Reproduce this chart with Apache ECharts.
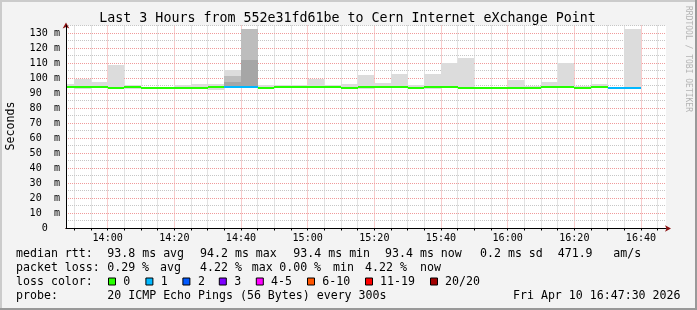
<!DOCTYPE html>
<html><head><meta charset="utf-8">
<script src="https://cdn.jsdelivr.net/npm/echarts@6/dist/echarts.min.js"></script>
<style>html,body{margin:0;padding:0;background:#f3f3f3}#c{width:697px;height:310px}</style>
</head><body><div id="c"></div>
<script>
// ---- data ----
const axisStart = '13:47:30';
const axisEnd = '16:47:30';
const binStart = ['13:45','13:50','13:55','14:00','14:05','14:10','14:15','14:20','14:25','14:30','14:35','14:40','14:45','14:50','14:55','15:00','15:05','15:10','15:15','15:20','15:25','15:30','15:35','15:40','15:45','15:50','15:55','16:00','16:05','16:10','16:15','16:20','16:25','16:30','16:35'];
const smokeLo = [93.5,93,93.5,92.7,92.7,93,93,93,92.7,92,93.5,93.5,93,94,94,94,94,93,93,93.5,93.5,93,92.7,93.5,93,93.2,93.2,93,93,93.5,93.5,93,93.5,93,93];
const smokeHi = [96,99.5,97.5,108.7,95.3,94,94,95.1,95.8,96.2,105.5,132.9,95.1,95.5,95.5,99.5,95.3,96,102,96.9,102.9,95.3,102.9,109.8,113.6,94.2,94.2,98.9,95,97.5,110.2,94.7,96,94.2,132.9];
const smokeMid = [null,null,null,null,null,null,null,null,null,null,101.3,132.9,null,null,null,null,null,null,null,null,null,null,null,null,null,null,null,null,null,null,null,null,null,null,null];
const smokeInner = [null,null,null,null,null,null,null,null,null,null,97.5,112,null,null,null,null,null,null,null,null,null,null,null,null,null,null,null,null,null,null,null,null,null,null,null];
const medianRtt = [94.2,94.2,94.2,93.5,94.2,93.4,93.4,93.4,93.4,94.2,94.2,94.2,93.4,94.2,94.2,94.2,94.2,93.5,94.2,94.2,94.2,93.5,94.2,94.2,93.5,93.5,93.5,93.5,93.5,94.2,94.2,93.5,94.2,93.4,93.4];
const lossPings = [0,0,0,0,0,0,0,0,0,0,1,1,0,0,0,0,0,0,0,0,0,0,0,0,0,0,0,0,0,0,0,0,0,1,1];
const xTickLabels = ['14:00','14:20','14:40','15:00','15:20','15:40','16:00','16:20','16:40'];
const yTickValues = [0,10,20,30,40,50,60,70,80,90,100,110,120,130];
const yMax = 135;
const titleText = 'Last 3 Hours from 552e31fd61be to Cern Internet eXchange Point';
const unitText = 'Seconds';
const rowMedian = ['median rtt:','93.8 ms avg','94.2 ms max','93.4 ms min','93.4 ms now','0.2 ms sd','471.9','am/s'];
const rowLoss = ['packet loss:','0.29','%','avg','4.22','%','max','0.00','%','min','4.22','%','now'];
const lossLabels = ['0','1','2','3','4-5','6-10','11-19','20/20'];
const probeText = ['probe:','20 ICMP Echo Pings (56 Bytes) every 300s'];
const dateText = 'Fri Apr 10 16:47:30 2026';
const watermark = 'RRDTOOL / TOBI OETIKER';

// ---- styles ----
const lossColors = ['#26ff00','#00b8ff','#0059ff','#7e00ff','#ff00ff','#ff5500','#ff0000','#a10000'];
const SMOKE = ['#dcdcdc','#bdbdbd','#a6a6a6'];
const MONO = 'DejaVu Sans Mono';
const MAJ = '#f09a9a', MIN = '#c6c6c6';

function toMin(s){const p=s.split(':').map(Number);return p[0]*60+p[1]+(p[2]||0)/60;}
function fmt(v){const h=Math.floor(v/60), m=Math.round(v-h*60);return (h<10?'0':'')+h+':'+(m<10?'0':'')+m;}
function lossIdx(n){if(n<=3)return n;if(n<=5)return 4;if(n<=10)return 5;if(n<=19)return 6;return 7;}
const xMin = toMin(axisStart), xMax = toMin(axisEnd);

const xGrid = [];
for (let t = Math.ceil(xMin/5)*5; t < xMax; t += 5) xGrid.push([t, t % 20 === 0 ? 1 : 0]);
const yGrid = [];
for (let v = 5; v <= yMax; v += 5) yGrid.push([v, v % 10 === 0 ? 1 : 0]);

const smokeData = binStart.map((s,i)=>[Math.max(toMin(s),xMin), Math.min(toMin(s)+5,xMax), smokeLo[i], smokeHi[i], medianRtt[i], i]);

const chart = echarts.init(document.getElementById('c'), null, {renderer:'canvas'});

const graphics = [];
graphics.push({type:'rect',shape:{x:0,y:0,width:697,height:2},style:{fill:'#cbcbcb'},silent:true});
graphics.push({type:'rect',shape:{x:0,y:0,width:2,height:310},style:{fill:'#cbcbcb'},silent:true});
graphics.push({type:'rect',shape:{x:0,y:308,width:697,height:2},style:{fill:'#999999'},silent:true});
graphics.push({type:'rect',shape:{x:695,y:0,width:2,height:310},style:{fill:'#999999'},silent:true});
function txt(t,x,y,size,align){return {type:'text',x:x,y:y,silent:true,style:{text:t,fontFamily:MONO,fontSize:size,fill:'#000',textAlign:align||'left',textVerticalAlign:'middle'}};}
graphics.push({type:'text',x:347.5,y:19,silent:true,style:{text:titleText,fontFamily:MONO,fontSize:13.3,fill:'#000',textAlign:'center',textVerticalAlign:'middle'}});
graphics.push({type:'text',x:11,y:126,rotation:Math.PI/2,silent:true,style:{text:unitText,fontFamily:MONO,fontSize:11.6,fill:'#000',textAlign:'center',textVerticalAlign:'middle'}});
graphics.push({type:'text',x:688,y:59,rotation:-Math.PI/2,silent:true,style:{text:watermark,fontFamily:MONO,fontSize:8,fill:'#b4b4b4',textAlign:'center',textVerticalAlign:'middle'}});
const LF = 11.6;
const r1x = [16,107.3,200,293.3,385,480,557.7,613.3];
rowMedian.forEach((t,i)=>graphics.push(txt(t,r1x[i],254,LF)));
const r2x = [16,107.3,142,160,200,235,251.7,279.3,314,333,365,400,420];
rowLoss.forEach((t,i)=>graphics.push(txt(t,r2x[i],268,LF)));
graphics.push(txt('loss color:',16,282,LF));
const boxX = [108.5,145.9,182.9,219.3,256.3,307.5,365.5,430.5];
const labX = [123.3,160.7,198,234.3,271,322.3,380,445];
lossLabels.forEach((t,i)=>{
  graphics.push({type:'rect',shape:{x:boxX[i],y:278,width:7,height:7},style:{fill:lossColors[i],stroke:'#000',lineWidth:1},silent:true});
  graphics.push(txt(t,labX[i],282,LF));
});
graphics.push(txt(probeText[0],16,296,LF));
graphics.push(txt(probeText[1],107.3,296,LF));
graphics.push(txt(dateText,680.5,296,LF,'right'));

const option = {
  animation:false,
  backgroundColor:'#f3f3f3',
  grid:{left:66,top:25.5,width:600,height:203,show:true,backgroundColor:'#ffffff',borderWidth:0,containLabel:false},
  xAxis:[
    {type:'value',min:xMin,max:xMax,position:'bottom',z:5,
     axisLine:{show:true,symbol:['none','arrow'],symbolSize:[5,6],symbolOffset:[0,5],lineStyle:{color:'#8b1010',width:1}},
     axisLabel:{show:false},axisTick:{show:false},splitLine:{show:false}},
    {type:'value',min:xMin,max:xMax,position:'bottom',z:6,
     axisLine:{show:true,lineStyle:{color:'#000',width:1}},
     axisTick:{show:true,length:2,lineStyle:{color:'#000'},customValues:xGrid.map(g=>g[0])},
     axisLabel:{show:true,customValues:xTickLabels.map(toMin),formatter:v=>fmt(v),fontFamily:MONO,fontSize:10.1,color:'#000',margin:5},
     splitLine:{show:false}}
  ],
  yAxis:[
    {type:'value',min:0,max:yMax,interval:10,position:'left',z:5,
     axisLine:{show:true,symbol:['none','arrow'],symbolSize:[5,6],symbolOffset:[0,3],lineStyle:{color:'#8b1010',width:1}},
     axisLabel:{show:false},axisTick:{show:false},splitLine:{show:false}},
    {type:'value',min:0,max:yMax,interval:10,position:'left',z:6,
     axisLine:{show:true,lineStyle:{color:'#000',width:1}},
     axisTick:{show:false},
     axisLabel:{show:true,fontFamily:MONO,fontSize:10.1,color:'#000',margin:6,
       formatter:v=>{ if (yTickValues.indexOf(v)<0) return ''; if(v===0) return '  0  '; return v>=100? v+' m' : v+'  m'; }},
     splitLine:{show:false}}
  ],
  graphic:graphics,
  series:[
    {type:'custom',name:'xgrid',xAxisIndex:1,yAxisIndex:1,z:1,silent:true,data:xGrid,encode:{x:0},
     renderItem:(params,api)=>{
       const t=api.value(0), major=api.value(1);
       const a=api.coord([t,yMax]), b=api.coord([t,0]);
       const x=Math.floor(a[0])+0.5;
       return {type:'line',shape:{x1:x,y1:a[1],x2:x,y2:b[1]},style:{stroke:major?MAJ:MIN,lineWidth:1,lineDash:[1,1]}};
     }},
    {type:'custom',name:'ygrid',xAxisIndex:1,yAxisIndex:1,z:1,silent:true,data:yGrid,encode:{y:0},
     renderItem:(params,api)=>{
       const v=api.value(0), major=api.value(1);
       const a=api.coord([xMin,v]), b=api.coord([xMax,v]);
       const y=Math.floor(a[1])+0.5;
       return {type:'line',shape:{x1:a[0],y1:y,x2:b[0],y2:y},style:{stroke:major?MAJ:MIN,lineWidth:1,lineDash:[1,1]}};
     }},
    {type:'custom',name:'smoke',xAxisIndex:1,yAxisIndex:1,z:2,silent:true,data:smokeData,encode:{x:[0,1],y:[2,3]},
     renderItem:(params,api)=>{
       const x0=api.value(0), x1=api.value(1), i=api.value(5);
       const rect=(lo,hi,color)=>{
         const a=api.coord([x0,hi]), b=api.coord([x1,lo]);
         const l=Math.round(a[0]), r=Math.round(b[0]), t=Math.round(a[1]), bt=Math.round(b[1]);
         return {type:'rect',shape:{x:l,y:t,width:r-l,height:bt-t},style:{fill:color}};
       };
       const ch=[rect(smokeLo[i],smokeHi[i],SMOKE[0])];
       if(smokeMid[i]!=null) ch.push(rect(smokeLo[i],smokeMid[i],SMOKE[1]));
       if(smokeInner[i]!=null) ch.push(rect(smokeLo[i],smokeInner[i],SMOKE[2]));
       const m=api.coord([x0,medianRtt[i]]), e=api.coord([x1,medianRtt[i]]);
       const l=Math.round(m[0]), r=Math.round(e[0]);
       ch.push({type:'rect',shape:{x:l,y:Math.round(m[1])-1,width:r-l,height:2},style:{fill:lossColors[lossIdx(lossPings[i])]}});
       return {type:'group',children:ch};
     }}
  ]
};
chart.setOption(option);
</script></body></html>
